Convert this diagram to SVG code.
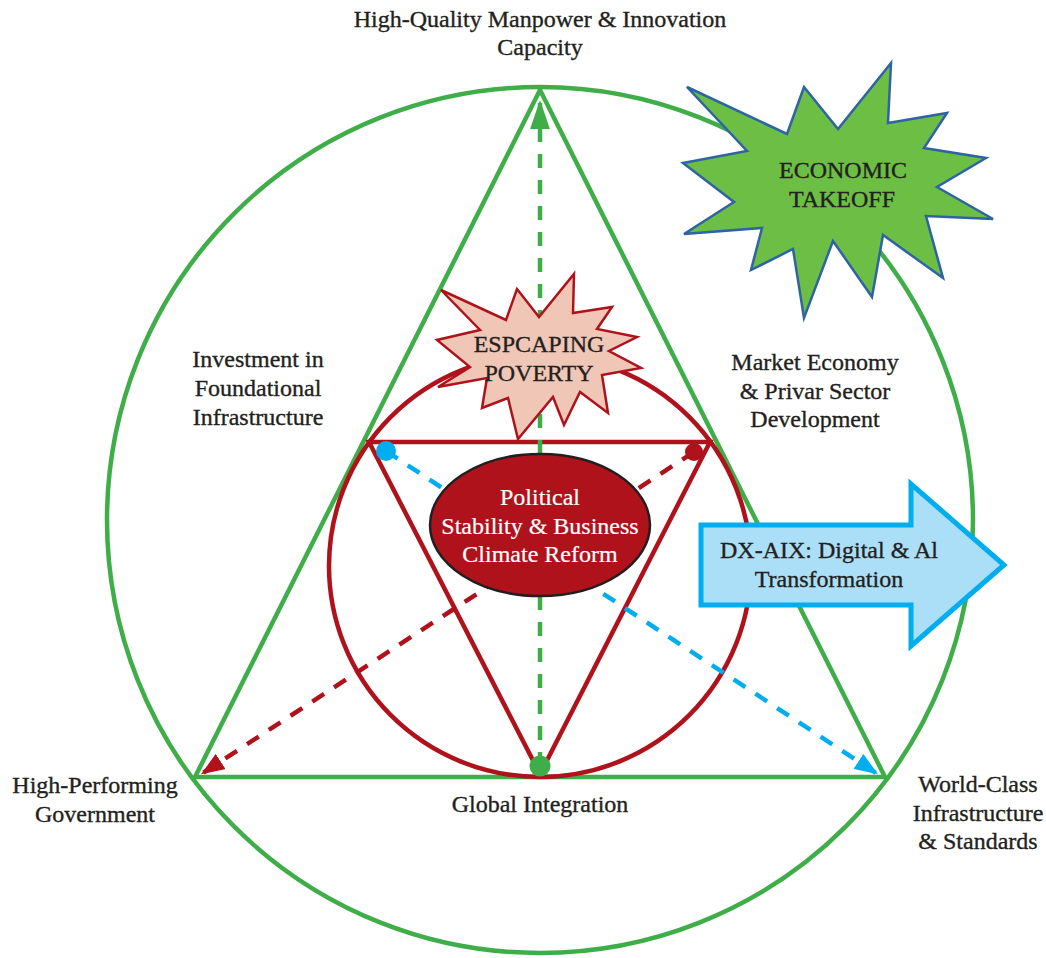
<svg xmlns="http://www.w3.org/2000/svg" width="1046" height="958" viewBox="0 0 1046 958">
  <style>
    .lbl { font-family: "Liberation Serif", "Times New Roman", serif; font-size: 24px; fill: #231F20; stroke: #231F20; stroke-width: 0.35; text-anchor: middle; }
    .lbl-w { font-family: "Liberation Serif", "Times New Roman", serif; font-size: 24px; fill: #FFFFFF; stroke: #FFFFFF; stroke-width: 0.2; text-anchor: middle; }
    .g-line { fill: none; stroke: #3FAE49; stroke-width: 4.5; stroke-linejoin: miter; }
    .r-line { fill: none; stroke: #B0121B; stroke-width: 4.5; stroke-linejoin: miter; }
    .dash { fill: none; stroke-width: 4.5; stroke-dasharray: 14 12; }
  </style>
  <defs>
    <marker id="ah-green" viewBox="0 0 10 10" refX="9" refY="5" markerWidth="6.4" markerHeight="4.4" markerUnits="strokeWidth" orient="auto" preserveAspectRatio="none">
      <path d="M0,0 L10,5 L0,10 z" fill="#3FAE49"/>
    </marker>
    <marker id="ah-blue" viewBox="0 0 10 10" refX="9" refY="5" markerWidth="5.2" markerHeight="4" markerUnits="strokeWidth" orient="auto" preserveAspectRatio="none">
      <path d="M0,0 L10,5 L0,10 z" fill="#00AEEF"/>
    </marker>
    <marker id="ah-red" viewBox="0 0 10 10" refX="9" refY="5" markerWidth="5.2" markerHeight="4" markerUnits="strokeWidth" orient="auto" preserveAspectRatio="none">
      <path d="M0,0 L10,5 L0,10 z" fill="#B0121B"/>
    </marker>
  </defs>

  <rect width="1046" height="958" fill="#FFFFFF"/>

  <!-- outer frame: circle and triangle -->
  <g id="outer-frame">
    <circle cx="540" cy="520" r="433" class="g-line"/>
    <polygon points="540,90 195,777 885,777" class="g-line"/>
  </g>

  <!-- inner frame: circle and inverted triangle -->
  <g id="inner-frame">
    <circle cx="540" cy="566" r="211" class="r-line"/>
    <polygon points="369,442 710,442 540,774" class="r-line"/>
  </g>

  <!-- dashed connectors -->
  <g id="connectors">
    <line x1="540" y1="766" x2="540" y2="103" class="dash" stroke="#3FAE49" marker-end="url(#ah-green)"/>
    <circle cx="540" cy="766" r="10.5" fill="#3FAE49"/>
    <line x1="386" y1="451" x2="876" y2="773" class="dash" stroke="#00AEEF" marker-end="url(#ah-blue)"/>
    <circle cx="386" cy="451" r="10" fill="#00AEEF"/>
    <line x1="694" y1="452" x2="203" y2="773" class="dash" stroke="#B0121B" marker-end="url(#ah-red)"/>
    <circle cx="694" cy="452" r="9" fill="#B0121B"/>
  </g>

  <!-- centre node -->
  <g id="node-political-stability">
    <ellipse cx="540" cy="525" rx="110" ry="71" fill="#B0121B" stroke="#231F20" stroke-width="2.5"/>
    <text class="lbl-w" x="540" y="505">Political</text>
    <text class="lbl-w" x="540" y="534">Stability &amp; Business</text>
    <text class="lbl-w" x="540" y="562">Climate Reform</text>
  </g>

  <!-- burst: escaping poverty -->
  <g id="node-escaping-poverty">
    <polygon points="441,290 506,320 517,289 539,317 574,274 573,313 612,307 597,329 637,337 609,351 641,368 602,375 608,413 580,392 564,425 553,397 518,439 508,398 482,408 487,378 438,387 470,367 437,340 480,330" fill="#F0C6B6" stroke="#B0121B" stroke-width="2.5" stroke-linejoin="miter"/>
    <text class="lbl" x="539" y="352">ESPCAPING</text>
    <text class="lbl" x="539" y="381">POVERTY</text>
  </g>

  <!-- burst: economic takeoff -->
  <g id="node-economic-takeoff">
    <polygon points="687,87 787,134 804,87 838,129 891,63 888,123 947,113 924,148 986,158 937,187 993,219 926,216 943,278 883,235 872,297 833,241 804,318 793,249 751,270 762,228 684,234 734,202 683,163 747,151" fill="#6CBE45" stroke="#2E63A4" stroke-width="2.5" stroke-linejoin="miter"/>
    <text class="lbl" x="843" y="178">ECONOMIC</text>
    <text class="lbl" x="842" y="207">TAKEOFF</text>
  </g>

  <!-- block arrow: digital transformation -->
  <g id="node-dx-aix">
    <polygon points="701,525 911,525 911,484 1004,565 911,646 911,605 701,605" fill="#ABDFF8" stroke="#00AEEF" stroke-width="5" stroke-linejoin="miter"/>
    <text class="lbl" x="829" y="558">DX-AIX: Digital &amp; Al</text>
    <text class="lbl" x="829" y="587">Transformation</text>
  </g>

  <!-- pillar labels -->
  <g id="label-manpower">
    <text class="lbl" x="540" y="27">High-Quality Manpower &amp; Innovation</text>
    <text class="lbl" x="540" y="55">Capacity</text>
  </g>
  <g id="label-foundational">
    <text class="lbl" x="258" y="367">Investment in</text>
    <text class="lbl" x="258" y="396">Foundational</text>
    <text class="lbl" x="258" y="425">Infrastructure</text>
  </g>
  <g id="label-market">
    <text class="lbl" x="815" y="370">Market Economy</text>
    <text class="lbl" x="815" y="399">&amp; Privar Sector</text>
    <text class="lbl" x="815" y="427">Development</text>
  </g>
  <g id="label-government">
    <text class="lbl" x="95" y="793">High-Performing</text>
    <text class="lbl" x="95" y="822">Government</text>
  </g>
  <g id="label-global">
    <text class="lbl" x="540" y="812">Global Integration</text>
  </g>
  <g id="label-world-class">
    <text class="lbl" x="978" y="792">World-Class</text>
    <text class="lbl" x="978" y="821">Infrastructure</text>
    <text class="lbl" x="978" y="849">&amp; Standards</text>
  </g>
</svg>
